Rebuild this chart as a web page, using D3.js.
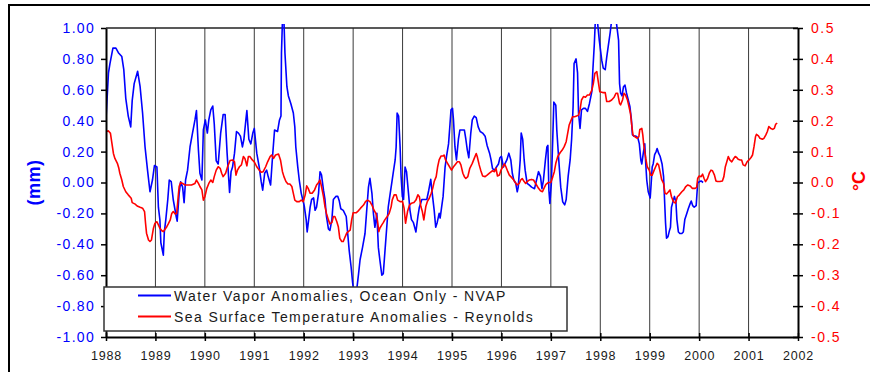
<!DOCTYPE html>
<html><head><meta charset="utf-8">
<script src="https://cdn.jsdelivr.net/npm/d3@7"></script>
<style>
html,body{margin:0;padding:0;background:#fff;}
svg{display:block;font-family:"Liberation Sans",Arial,sans-serif;}
</style></head>
<body><svg id="c" width="870" height="372"></svg>
<script>
const years = [1988,1989,1990,1991,1992,1993,1994,1995,1996,1997,1998,1999,2000,2001,2002];
const mmTicks = [-1,-0.8,-0.6,-0.4,-0.2,0,0.2,0.4,0.6,0.8,1];
const degTicks = [-0.5,-0.4,-0.3,-0.2,-0.1,0,0.1,0.2,0.3,0.4,0.5];
const seriesNames = ["Water Vapor Anomalies, Ocean Only - NVAP","Sea Surface Temperature Anomalies - Reynolds"];
const axisTitles = ["(mm)","°C"];

// [decimal year, mm]
const waterVapor = [[1988.00,0.41],[1988.05,0.71],[1988.08,0.77],[1988.14,0.87],[1988.20,0.87],[1988.25,0.84],[1988.32,0.815],[1988.36,0.73],[1988.40,0.545],[1988.45,0.43],[1988.50,0.36],[1988.53,0.53],[1988.57,0.64],[1988.64,0.72],[1988.69,0.62],[1988.74,0.45],[1988.79,0.23],[1988.84,0.08],[1988.89,-0.06],[1988.94,0.016],[1988.98,0.11],[1989.03,0.10],[1989.06,-0.16],[1989.09,-0.24],[1989.11,-0.39],[1989.16,-0.47],[1989.18,-0.32],[1989.21,-0.24],[1989.25,-0.11],[1989.28,0.016],[1989.32,0.005],[1989.36,-0.11],[1989.42,-0.22],[1989.44,-0.25],[1989.48,-0.07],[1989.51,0.005],[1989.55,-0.03],[1989.58,-0.13],[1989.61,0.016],[1989.65,0.08],[1989.70,0.23],[1989.75,0.32],[1989.80,0.405],[1989.83,0.465],[1989.87,0.21],[1989.90,0.06],[1989.94,0.016],[1989.97,0.34],[1990.01,0.405],[1990.05,0.32],[1990.08,0.405],[1990.12,0.47],[1990.16,0.495],[1990.19,0.38],[1990.23,0.14],[1990.27,0.12],[1990.32,0.32],[1990.37,0.44],[1990.41,0.44],[1990.45,0.19],[1990.50,-0.065],[1990.53,0.07],[1990.56,0.10],[1990.60,0.19],[1990.64,0.33],[1990.68,0.32],[1990.72,0.30],[1990.76,0.23],[1990.79,0.28],[1990.83,0.405],[1990.85,0.465],[1990.89,0.28],[1990.93,0.25],[1990.97,0.32],[1991.00,0.35],[1991.05,0.19],[1991.10,0.10],[1991.14,0.005],[1991.17,-0.05],[1991.21,0.06],[1991.25,0.08],[1991.28,0.04],[1991.33,-0.016],[1991.37,0.17],[1991.41,0.34],[1991.47,0.33],[1991.51,0.405],[1991.54,0.43],[1991.55,0.84],[1991.57,1.05],[1991.60,1.05],[1991.62,0.84],[1991.66,0.62],[1991.69,0.56],[1991.74,0.51],[1991.79,0.45],[1991.82,0.36],[1991.84,0.23],[1991.88,0.10],[1991.91,0.016],[1991.95,-0.07],[1991.98,-0.11],[1992.01,-0.15],[1992.05,-0.24],[1992.07,-0.32],[1992.10,-0.24],[1992.13,-0.16],[1992.16,-0.11],[1992.20,-0.10],[1992.23,-0.18],[1992.26,-0.16],[1992.30,-0.07],[1992.33,0.07],[1992.36,0.05],[1992.40,-0.05],[1992.43,-0.11],[1992.46,-0.22],[1992.50,-0.30],[1992.53,-0.31],[1992.57,-0.24],[1992.60,-0.11],[1992.65,-0.09],[1992.69,-0.09],[1992.72,-0.12],[1992.75,-0.17],[1992.80,-0.18],[1992.86,-0.22],[1992.89,-0.33],[1992.92,-0.44],[1992.96,-0.55],[1992.99,-0.65],[1993.02,-0.72],[1993.07,-0.70],[1993.11,-0.59],[1993.14,-0.50],[1993.19,-0.42],[1993.24,-0.33],[1993.27,-0.20],[1993.31,-0.03],[1993.34,0.027],[1993.38,-0.07],[1993.41,-0.20],[1993.44,-0.29],[1993.48,-0.20],[1993.51,-0.42],[1993.54,-0.50],[1993.58,-0.60],[1993.61,-0.59],[1993.64,-0.46],[1993.68,-0.29],[1993.71,-0.16],[1993.75,-0.07],[1993.78,-0.005],[1993.81,0.06],[1993.85,0.146],[1993.87,0.23],[1993.89,0.45],[1993.92,0.43],[1993.95,0.23],[1993.97,0.04],[1993.995,-0.09],[1994.02,-0.11],[1994.05,0.10],[1994.08,0.07],[1994.12,-0.07],[1994.15,-0.18],[1994.18,-0.24],[1994.22,-0.26],[1994.27,-0.32],[1994.31,-0.22],[1994.34,-0.16],[1994.39,-0.11],[1994.43,-0.11],[1994.49,-0.11],[1994.53,-0.05],[1994.57,0.02],[1994.60,-0.07],[1994.64,-0.18],[1994.67,-0.29],[1994.70,-0.26],[1994.74,-0.20],[1994.76,-0.23],[1994.79,-0.16],[1994.82,-0.09],[1994.86,0.10],[1994.89,0.17],[1994.93,0.25],[1994.96,0.38],[1994.98,0.47],[1995.01,0.48],[1995.03,0.405],[1995.06,0.23],[1995.09,0.146],[1995.13,0.28],[1995.16,0.34],[1995.21,0.34],[1995.25,0.34],[1995.28,0.28],[1995.31,0.21],[1995.34,0.16],[1995.38,0.32],[1995.41,0.405],[1995.45,0.43],[1995.49,0.42],[1995.53,0.36],[1995.57,0.33],[1995.62,0.32],[1995.67,0.30],[1995.71,0.24],[1995.76,0.19],[1995.79,0.146],[1995.82,0.09],[1995.86,0.08],[1995.90,0.10],[1995.94,0.12],[1995.97,0.16],[1996.00,0.17],[1996.04,0.10],[1996.07,0.12],[1996.11,0.146],[1996.15,0.19],[1996.19,0.146],[1996.22,0.06],[1996.25,0.016],[1996.29,-0.005],[1996.32,-0.06],[1996.34,-0.03],[1996.38,0.146],[1996.40,0.32],[1996.43,0.28],[1996.46,0.146],[1996.48,0.08],[1996.52,-0.005],[1996.56,-0.016],[1996.61,-0.03],[1996.67,-0.04],[1996.71,0.016],[1996.75,0.07],[1996.79,0.04],[1996.82,-0.04],[1996.85,0.016],[1996.89,0.146],[1996.92,0.23],[1996.94,0.24],[1996.96,-0.05],[1996.98,-0.135],[1997.01,-0.005],[1997.04,0.30],[1997.06,0.52],[1997.10,0.50],[1997.12,0.34],[1997.16,0.146],[1997.20,-0.03],[1997.24,-0.125],[1997.28,-0.145],[1997.31,-0.11],[1997.35,0.04],[1997.39,0.146],[1997.42,0.28],[1997.45,0.49],[1997.47,0.77],[1997.51,0.80],[1997.54,0.71],[1997.56,0.45],[1997.59,0.35],[1997.62,0.47],[1997.66,0.48],[1997.70,0.48],[1997.74,0.46],[1997.78,0.51],[1997.83,0.59],[1997.85,0.73],[1997.88,0.90],[1997.90,1.05],[1997.94,1.05],[1997.98,0.92],[1998.03,0.79],[1998.06,0.74],[1998.10,0.73],[1998.13,0.81],[1998.16,0.88],[1998.20,0.97],[1998.23,1.05],[1998.32,1.05],[1998.37,0.92],[1998.39,0.64],[1998.41,0.58],[1998.44,0.56],[1998.47,0.62],[1998.50,0.63],[1998.53,0.58],[1998.57,0.53],[1998.60,0.49],[1998.63,0.405],[1998.65,0.31],[1998.68,0.30],[1998.72,0.30],[1998.76,0.29],[1998.79,0.25],[1998.82,0.146],[1998.84,0.12],[1998.87,0.19],[1998.90,0.25],[1998.92,0.12],[1998.94,0.016],[1998.97,-0.06],[1999.01,-0.10],[1999.03,-0.005],[1999.05,0.10],[1999.07,0.12],[1999.10,0.18],[1999.13,0.20],[1999.15,0.22],[1999.18,0.19],[1999.21,0.17],[1999.25,0.12],[1999.28,0.04],[1999.30,-0.11],[1999.32,-0.26],[1999.34,-0.36],[1999.37,-0.35],[1999.40,-0.31],[1999.42,-0.29],[1999.44,-0.16],[1999.47,-0.125],[1999.50,-0.09],[1999.53,-0.125],[1999.55,-0.24],[1999.58,-0.32],[1999.61,-0.33],[1999.65,-0.33],[1999.68,-0.32],[1999.71,-0.24],[1999.75,-0.20],[1999.78,-0.17],[1999.82,-0.135],[1999.84,-0.12],[1999.87,-0.15],[1999.90,-0.16],[1999.94,-0.15],[1999.97,-0.005],[2000.00,0.005],[2000.04,0.01],[2000.08,0.0]];

// [decimal year, °C]
const sst = [[1988.00,0.165],[1988.05,0.167],[1988.09,0.159],[1988.12,0.127],[1988.15,0.094],[1988.18,0.078],[1988.23,0.062],[1988.26,0.046],[1988.28,0.030],[1988.32,0.008],[1988.35,-0.013],[1988.40,-0.030],[1988.45,-0.040],[1988.51,-0.051],[1988.53,-0.065],[1988.59,-0.070],[1988.63,-0.076],[1988.69,-0.080],[1988.74,-0.083],[1988.78,-0.094],[1988.80,-0.132],[1988.82,-0.164],[1988.86,-0.186],[1988.89,-0.191],[1988.92,-0.186],[1988.96,-0.148],[1988.99,-0.132],[1989.03,-0.127],[1989.06,-0.137],[1989.09,-0.148],[1989.13,-0.156],[1989.16,-0.159],[1989.19,-0.152],[1989.23,-0.143],[1989.26,-0.134],[1989.30,-0.121],[1989.33,-0.100],[1989.36,-0.094],[1989.40,-0.102],[1989.43,-0.100],[1989.46,-0.046],[1989.48,-0.013],[1989.51,0.0],[1989.55,-0.003],[1989.60,-0.008],[1989.67,-0.008],[1989.73,-0.008],[1989.80,-0.003],[1989.83,0.008],[1989.87,-0.003],[1989.90,-0.013],[1989.94,-0.024],[1989.97,-0.057],[1990.00,-0.046],[1990.04,-0.019],[1990.08,-0.003],[1990.12,0.008],[1990.16,0.0],[1990.19,0.019],[1990.23,0.040],[1990.27,0.051],[1990.31,0.046],[1990.34,0.030],[1990.37,0.019],[1990.42,0.030],[1990.46,0.051],[1990.51,0.071],[1990.56,0.073],[1990.60,0.067],[1990.63,0.024],[1990.66,0.040],[1990.70,0.051],[1990.74,0.057],[1990.78,0.084],[1990.81,0.078],[1990.85,0.054],[1990.88,0.084],[1990.91,0.084],[1990.96,0.073],[1991.00,0.067],[1991.05,0.051],[1991.10,0.040],[1991.14,0.033],[1991.18,0.035],[1991.23,0.051],[1991.27,0.067],[1991.32,0.084],[1991.35,0.089],[1991.39,0.078],[1991.43,0.089],[1991.49,0.092],[1991.53,0.073],[1991.57,0.035],[1991.60,0.019],[1991.64,0.003],[1991.68,-0.005],[1991.72,-0.005],[1991.76,-0.013],[1991.79,-0.035],[1991.82,-0.057],[1991.86,-0.062],[1991.91,-0.062],[1991.95,-0.057],[1991.99,-0.062],[1992.03,-0.040],[1992.06,-0.011],[1992.09,-0.019],[1992.13,-0.035],[1992.17,-0.035],[1992.22,-0.024],[1992.26,-0.008],[1992.30,0.0],[1992.33,0.008],[1992.36,-0.013],[1992.40,-0.046],[1992.43,-0.078],[1992.46,-0.100],[1992.50,-0.121],[1992.53,-0.134],[1992.57,-0.130],[1992.60,-0.110],[1992.63,-0.110],[1992.67,-0.127],[1992.70,-0.143],[1992.73,-0.181],[1992.77,-0.191],[1992.80,-0.191],[1992.84,-0.175],[1992.87,-0.164],[1992.90,-0.159],[1992.94,-0.154],[1992.97,-0.121],[1993.00,-0.098],[1993.06,-0.098],[1993.11,-0.091],[1993.15,-0.083],[1993.21,-0.073],[1993.25,-0.062],[1993.29,-0.057],[1993.34,-0.062],[1993.38,-0.073],[1993.42,-0.089],[1993.46,-0.100],[1993.49,-0.121],[1993.52,-0.159],[1993.54,-0.148],[1993.58,-0.137],[1993.61,-0.130],[1993.64,-0.121],[1993.69,-0.110],[1993.73,-0.100],[1993.77,-0.078],[1993.79,-0.057],[1993.83,-0.040],[1993.87,-0.040],[1993.90,-0.057],[1993.95,-0.062],[1994.00,-0.062],[1994.03,-0.083],[1994.06,-0.132],[1994.10,-0.094],[1994.14,-0.073],[1994.18,-0.067],[1994.23,-0.065],[1994.27,-0.057],[1994.31,-0.040],[1994.34,-0.046],[1994.37,-0.078],[1994.40,-0.094],[1994.43,-0.121],[1994.47,-0.078],[1994.50,-0.062],[1994.54,-0.051],[1994.58,-0.035],[1994.61,-0.019],[1994.64,0.003],[1994.68,0.019],[1994.71,0.051],[1994.74,0.073],[1994.78,0.086],[1994.82,0.086],[1994.84,0.089],[1994.87,0.073],[1994.91,0.062],[1994.95,0.051],[1994.99,0.040],[1995.03,0.051],[1995.06,0.057],[1995.11,0.067],[1995.15,0.067],[1995.18,0.057],[1995.22,0.030],[1995.25,0.019],[1995.28,0.013],[1995.32,0.019],[1995.36,0.046],[1995.41,0.062],[1995.45,0.078],[1995.49,0.094],[1995.51,0.084],[1995.55,0.057],[1995.58,0.040],[1995.62,0.021],[1995.67,0.019],[1995.71,0.024],[1995.77,0.032],[1995.82,0.038],[1995.86,0.035],[1995.89,0.046],[1995.92,0.021],[1995.96,0.024],[1995.99,0.040],[1996.03,0.051],[1996.06,0.060],[1996.09,0.051],[1996.13,0.035],[1996.16,0.024],[1996.19,0.019],[1996.24,0.010],[1996.28,0.0],[1996.32,-0.008],[1996.36,-0.003],[1996.39,0.008],[1996.42,0.013],[1996.46,0.003],[1996.49,-0.003],[1996.52,0.003],[1996.56,0.008],[1996.61,0.010],[1996.65,0.008],[1996.68,0.0],[1996.71,-0.008],[1996.75,-0.019],[1996.79,-0.027],[1996.83,-0.030],[1996.86,-0.019],[1996.90,-0.006],[1996.95,0.0],[1997.00,0.0],[1997.04,0.019],[1997.07,0.035],[1997.10,0.062],[1997.14,0.084],[1997.19,0.097],[1997.23,0.105],[1997.27,0.116],[1997.31,0.132],[1997.34,0.159],[1997.37,0.186],[1997.41,0.202],[1997.44,0.213],[1997.48,0.213],[1997.52,0.215],[1997.56,0.218],[1997.59,0.235],[1997.62,0.267],[1997.66,0.278],[1997.70,0.276],[1997.74,0.283],[1997.78,0.283],[1997.83,0.299],[1997.86,0.321],[1997.89,0.353],[1997.93,0.359],[1997.96,0.326],[1997.99,0.294],[1998.05,0.291],[1998.10,0.291],[1998.13,0.262],[1998.18,0.262],[1998.23,0.267],[1998.28,0.276],[1998.32,0.289],[1998.35,0.289],[1998.39,0.256],[1998.41,0.251],[1998.45,0.267],[1998.48,0.289],[1998.51,0.283],[1998.55,0.267],[1998.58,0.246],[1998.61,0.224],[1998.64,0.181],[1998.66,0.154],[1998.70,0.148],[1998.75,0.143],[1998.78,0.148],[1998.80,0.172],[1998.84,0.175],[1998.86,0.154],[1998.88,0.121],[1998.92,0.078],[1998.95,0.051],[1998.99,0.040],[1999.02,0.024],[1999.05,0.024],[1999.09,0.040],[1999.12,0.051],[1999.15,0.062],[1999.18,0.057],[1999.21,0.035],[1999.24,0.010],[1999.28,-0.003],[1999.31,-0.035],[1999.34,-0.037],[1999.38,-0.030],[1999.41,-0.024],[1999.44,-0.046],[1999.48,-0.062],[1999.52,-0.067],[1999.56,-0.046],[1999.60,-0.040],[1999.65,-0.030],[1999.69,-0.024],[1999.73,-0.013],[1999.77,-0.008],[1999.82,-0.011],[1999.86,-0.019],[1999.92,-0.019],[1999.95,-0.016],[1999.97,0.013],[2000.00,0.021],[2000.04,0.019],[2000.07,0.027],[2000.10,0.013],[2000.13,0.003],[2000.17,0.013],[2000.21,0.032],[2000.24,0.040],[2000.27,0.038],[2000.31,0.024],[2000.34,0.005],[2000.37,0.003],[2000.42,0.003],[2000.47,0.005],[2000.50,0.019],[2000.53,0.051],[2000.56,0.067],[2000.59,0.084],[2000.62,0.073],[2000.66,0.067],[2000.69,0.075],[2000.73,0.084],[2000.76,0.081],[2000.79,0.075],[2000.83,0.073],[2000.86,0.073],[2000.89,0.057],[2000.93,0.054],[2000.97,0.067],[2001.02,0.075],[2001.05,0.081],[2001.08,0.089],[2001.11,0.116],[2001.14,0.148],[2001.16,0.156],[2001.20,0.151],[2001.23,0.143],[2001.28,0.140],[2001.31,0.143],[2001.35,0.154],[2001.38,0.165],[2001.41,0.181],[2001.45,0.175],[2001.49,0.172],[2001.52,0.175],[2001.55,0.189],[2001.58,0.192]];

const svg = d3.select("#c");
const L = 106, R = 798, T = 28, B = 337;
const x = d3.scaleLinear().domain([1988, 2002]).range([L, R]);
const yL = d3.scaleLinear().domain([-1, 1]).range([B, T]);
const yR = d3.scaleLinear().domain([-0.5, 0.5]).range([B, T]);
const BLUE = "#0000ff", RED = "#ff0000";
const FONT = "Liberation Sans, Arial, sans-serif";

// outer frame
svg.append("rect").attr("x", 9).attr("y", 5).attr("width", 1000).attr("height", 1000)
  .attr("fill", "none").attr("stroke", "#000").attr("stroke-width", 2);

// vertical gridlines
svg.append("g").selectAll("line").data(years.slice(1, -1)).join("line")
  .attr("x1", d => x(d)).attr("x2", d => x(d)).attr("y1", T).attr("y2", B)
  .attr("stroke", "#3a3a3a").attr("stroke-width", 1);

// top border of plot
svg.append("line").attr("x1", L).attr("x2", R).attr("y1", T).attr("y2", T)
  .attr("stroke", "#222").attr("stroke-width", 1.5);

// clip for series
svg.append("clipPath").attr("id", "clip").append("rect")
  .attr("x", L).attr("y", T - 4).attr("width", R - L).attr("height", B - T + 4);

const lineL = d3.line().x(d => x(d[0])).y(d => yL(d[1]));
const lineR = d3.line().x(d => x(d[0])).y(d => yR(d[1]));
const g = svg.append("g").attr("clip-path", "url(#clip)");
g.append("path").datum(waterVapor).attr("d", lineL).attr("fill", "none")
  .attr("stroke", BLUE).attr("stroke-width", 1.6).attr("stroke-linejoin", "round");
g.append("path").datum(sst).attr("d", lineR).attr("fill", "none")
  .attr("stroke", RED).attr("stroke-width", 1.6).attr("stroke-linejoin", "round");

// axes
const ax = svg.append("g").attr("transform", `translate(0,${B})`)
  .call(d3.axisBottom(x).tickValues(years).tickFormat(d => String(d)).tickSizeInner(4).tickSizeOuter(0).tickPadding(10));
ax.selectAll(".tick line").attr("y1", -4).attr("y2", 4).attr("stroke", "#000").attr("stroke-width", 1.5);
ax.select(".domain").attr("stroke", "#000").attr("stroke-width", 2);
ax.selectAll("text").attr("font-size", 12.5).attr("fill", "#1a1a1a").style("letter-spacing", "0.8px")
  .attr("font-family", FONT);

const ay = svg.append("g").attr("transform", `translate(${L},0)`)
  .call(d3.axisLeft(yL).tickValues(mmTicks).tickFormat(d => d.toFixed(2)).tickSizeInner(5).tickSizeOuter(0).tickPadding(6));
ay.select(".domain").attr("stroke", "#000").attr("stroke-width", 2);
ay.selectAll(".tick line").attr("stroke", "#000").attr("stroke-width", 1.5);
ay.selectAll("text").attr("font-size", 14).attr("fill", BLUE).style("letter-spacing", "1.3px")
  .attr("font-family", FONT);

const ar = svg.append("g").attr("transform", `translate(${R},0)`)
  .call(d3.axisRight(yR).tickValues(degTicks).tickFormat(d => d.toFixed(1)).tickSizeInner(5).tickSizeOuter(0).tickPadding(8));
ar.select(".domain").attr("stroke", "#000").attr("stroke-width", 2);
ar.selectAll(".tick line").attr("x1", -5).attr("x2", 5).attr("stroke", "#000").attr("stroke-width", 1.5);
ar.selectAll("text").attr("font-size", 14).attr("fill", RED).style("letter-spacing", "1.5px")
  .attr("font-family", FONT);

// axis titles
svg.append("text").attr("transform", `translate(40,${(T + B) / 2}) rotate(-90)`)
  .attr("text-anchor", "middle").attr("font-size", 18).attr("font-weight", "bold")
  .style("letter-spacing", "0.5px").attr("fill", BLUE).text(axisTitles[0]);
svg.append("text").attr("transform", `translate(865,181) rotate(-90)`)
  .attr("text-anchor", "middle").attr("font-size", 18).attr("font-weight", "bold")
  .attr("fill", RED).text(axisTitles[1]);

// legend
const lg = svg.append("g").attr("transform", "translate(104,287)");
lg.append("rect").attr("width", 463).attr("height", 44).attr("fill", "#fff")
  .attr("stroke", "#333").attr("stroke-width", 1.5);
const colors = [BLUE, RED];
seriesNames.forEach((name, i) => {
  const yy = 8.5 + i * 21;
  lg.append("line").attr("x1", 34).attr("x2", 67).attr("y1", yy).attr("y2", yy)
    .attr("stroke", colors[i]).attr("stroke-width", 2);
  lg.append("text").attr("x", 70).attr("y", yy).attr("dy", "0.36em")
    .attr("font-size", 14).attr("fill", "#1a1a1a").style("letter-spacing", "1.4px").text(name);
});
</script></body></html>
